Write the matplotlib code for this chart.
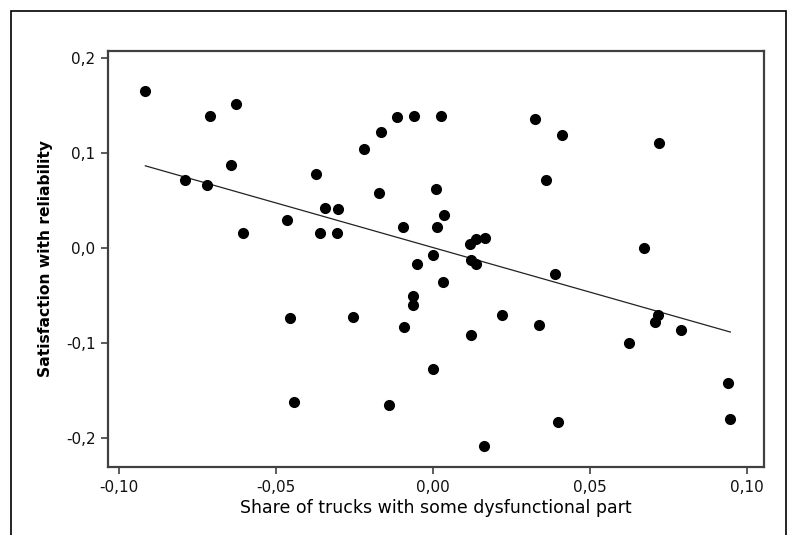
#!/usr/bin/env python3
"""Scatter of reliability satisfaction vs. share of trucks with a dysfunctional part."""

import matplotlib
matplotlib.use("Agg")
import matplotlib.pyplot as plt
import numpy as np
from matplotlib.patches import Rectangle


share_dysfunctional = [
    -0.0916, -0.0710, -0.0627, -0.0789, -0.0719, -0.0644, -0.0604, -0.0464,
    -0.0455, -0.0442, -0.0372, -0.0345, -0.0360, -0.0303, -0.0305, -0.0254,
    -0.0219, -0.0167, -0.0171, -0.0114, -0.0140, -0.0061, -0.0095, -0.0052,
    -0.0065, -0.0065, -0.0092, 0.0026, 0.0011, 0.0035, 0.0014, 0.0001,
    0.0031, 0.0001, 0.0117, 0.0136, 0.0167, 0.0122, 0.0136, 0.0122,
    0.0162, 0.0220, 0.0326, 0.0412, 0.0360, 0.0390, 0.0338, 0.0399,
    0.0671, 0.0719, 0.0623, 0.0716, 0.0707, 0.0790, 0.0938, 0.0947,
]
satisfaction = [
    0.1655, 0.1394, 0.1511, 0.0713, 0.0667, 0.0870, 0.0159, 0.0290,
    -0.0741, -0.1626, 0.0784, 0.0422, 0.0159, 0.0407, 0.0159, -0.0725,
    0.1046, 0.1221, 0.0580, 0.1380, -0.1654, 0.1394, 0.0220, -0.0172,
    -0.0504, -0.0595, -0.0828, 0.1394, 0.0626, 0.0348, 0.0221, -0.0069,
    -0.0361, -0.1274, 0.0044, 0.0094, 0.0102, -0.0126, -0.0170, -0.0913,
    -0.2088, -0.0709, 0.1363, 0.1190, 0.0713, -0.0273, -0.0812, -0.1826,
    0.0000, 0.1105, -0.1000, -0.0705, -0.0776, -0.0868, -0.1420, -0.1798,
]

x_ticks = [-0.10, -0.05, 0.00, 0.05, 0.10]
x_tick_labels = ["-0,10", "-0,05", "0,00", "0,05", "0,10"]
y_ticks = [0.2, 0.1, 0.0, -0.1, -0.2]
y_tick_labels = ["0,2", "0,1", "0,0", "-0,1", "-0,2"]

SPINE = "#404040"


def main() -> None:
  x = np.array(share_dysfunctional)
  y = np.array(satisfaction)

  fig = plt.figure(figsize=(7.88, 5.35), dpi=100)
  fig.patch.set_facecolor("white")
  ax = fig.add_axes([0.137, 0.1262, 0.8325, 0.7794])

  # least-squares line across the observed x range
  slope, intercept = np.polyfit(x, y, 1)
  line_x = np.array([x.min(), x.max()])
  ax.plot(line_x, intercept + slope * line_x, color="#222222", linewidth=0.9, zorder=2)

  ax.plot(x, y, "o", color="black", markersize=7, zorder=3)

  ax.set_xlim(-0.1035, 0.1054)
  ax.set_ylim(-0.231, 0.2079)
  ax.set_xticks(x_ticks, x_tick_labels)
  ax.set_yticks(y_ticks, y_tick_labels)
  ax.tick_params(direction="out", length=5, width=1.2, colors=SPINE,
                 labelsize=11, labelcolor="#111111", pad=4)
  for spine in ax.spines.values():
    spine.set_color(SPINE)
    spine.set_linewidth(1.6)

  ax.set_xlabel("Share of trucks with some dysfunctional part", fontsize=12.5, labelpad=3)
  ax.set_ylabel("Satisfaction with reliability", fontsize=11.2, weight="bold", labelpad=9)

  # outer frame of the exported graph window
  fig.patches.append(Rectangle((0.014, -0.02), 0.9835, 0.9994, transform=fig.transFigure,
                               fill=False, edgecolor="black", linewidth=1.2))

  fig.savefig("out.png", dpi=100)
  plt.close(fig)


if __name__ == "__main__":
  main()
